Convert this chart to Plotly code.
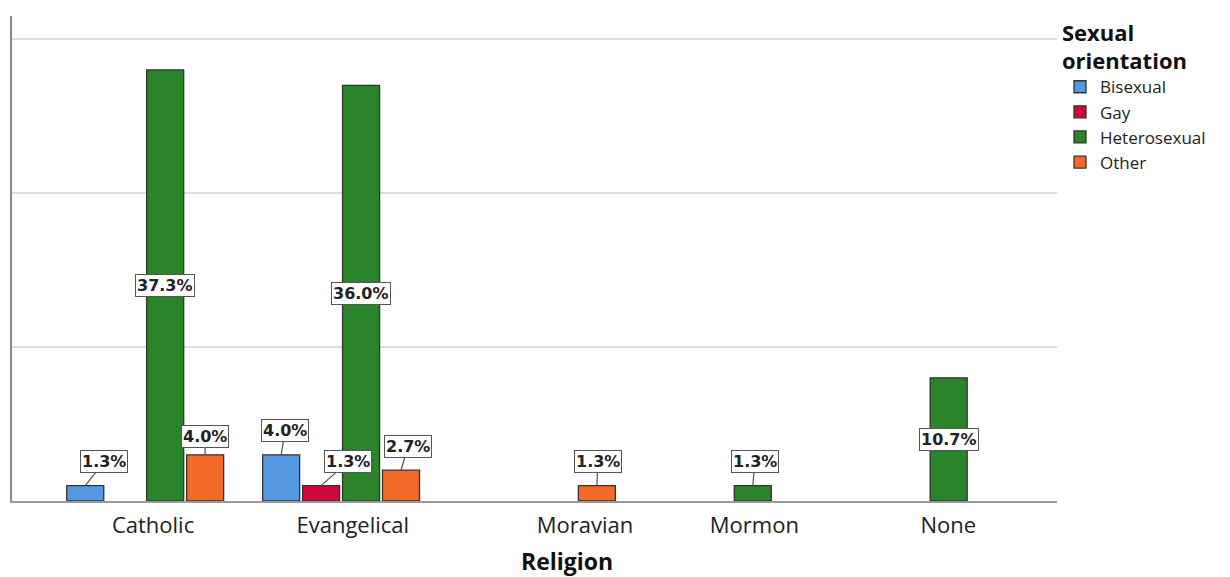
import plotly.graph_objects as go

religions = ["Catholic", "Evangelical", "Moravian", "Mormon", "None"]
orientations = ["Bisexual", "Gay", "Heterosexual", "Other"]
counts = {
    "Bisexual":     [1, 3, 0, 0, 0],
    "Gay":          [0, 1, 0, 0, 0],
    "Heterosexual": [28, 27, 0, 1, 8],
    "Other":        [3, 2, 1, 0, 0],
}
total = 75

colors = {"Bisexual": "#5599E3", "Gay": "#D2073A", "Heterosexual": "#2A8429", "Other": "#F26A28"}
slot = 0.204
bar_w = 0.189
offsets = {o: (i - 1.5) * slot for i, o in enumerate(orientations)}
label_shift = [0.04, 0.06, 0.245, 0.11, 0.10]
# per-label (ax, ay) pixel offsets for the small-bar callouts
callout = {
    ("Bisexual", 0): (19, -24), ("Other", 0): (0, -18),
    ("Bisexual", 1): (4, -24), ("Gay", 1): (27, -24), ("Other", 1): (7, -24),
    ("Other", 2): (1, -24), ("Heterosexual", 3): (2, -24),
}

fig = go.Figure()
annotations = []
for o in orientations:
    xs, ys = [], []
    for i, c in enumerate(counts[o]):
        xs.append(i + offsets[o])
        ys.append(c if c > 0 else None)
    fig.add_trace(go.Bar(
        x=xs, y=ys, width=bar_w, name=o,
        marker=dict(color=colors[o], line=dict(color="#333333", width=1.3)),
        hoverinfo="skip",
    ))
    for i, c in enumerate(counts[o]):
        if c <= 0:
            continue
        txt = f"{c / total * 100:.1f}%"
        base = dict(text=f"<b>{txt}</b>", font=dict(family="DejaVu Sans", size=16, color="#222"),
                    bgcolor="white", bordercolor="#555", borderwidth=1, borderpad=1)
        if c >= 8:
            annotations.append(dict(x=i + offsets[o], y=c / 2, xref="x", yref="y",
                                    showarrow=False, **base))
        else:
            ax, ay = callout.get((o, i), (0, -24))
            annotations.append(dict(x=i + offsets[o], y=c, xref="x", yref="y",
                                    showarrow=True, arrowhead=0, arrowwidth=1.2,
                                    arrowcolor="#555", ax=ax, ay=ay, standoff=0, **base))

annotations.append(dict(text="<b>Religion</b>", xref="paper", yref="paper",
                        x=0.531, y=(501 - 561) / 487, yanchor="middle", showarrow=False,
                        font=dict(family="Open Sans", size=23, color="#111")))

fig.update_layout(
    width=1230, height=577,
    margin=dict(l=12, r=173, t=14, b=76),
    plot_bgcolor="white", paper_bgcolor="white",
    barmode="overlay",
    showlegend=True,
    legend=dict(
        title=dict(text="<b>Sexual<br>orientation</b>", font=dict(family="Open Sans", size=22, color="#111")),
        font=dict(family="Open Sans", size=17, color="#222"),
        xref="paper", yref="paper", x=(1060 - 12) / 1045, y=1 + 4 / 487,
        xanchor="left", yanchor="top", tracegroupgap=0, itemwidth=30,
        bgcolor="rgba(0,0,0,0)", borderwidth=0,
    ),
    xaxis=dict(
        range=[-0.68, 4.655], tickmode="array",
        tickvals=[i + s for i, s in enumerate(label_shift)], ticktext=religions,
        showgrid=False, zeroline=False, showline=True, linecolor="#999", linewidth=2,
        ticks="", ticklabelstandoff=4, tickfont=dict(family="Open Sans", size=22, color="#222"),
    ),
    yaxis=dict(
        range=[0, 31.5], tickvals=[10, 20, 30], showticklabels=False,
        showgrid=True, gridcolor="#dcdcdc", gridwidth=2, zeroline=False,
        showline=True, linecolor="#888", linewidth=2, ticks="",
    ),
    annotations=annotations,
)

fig.write_html("out.html")
